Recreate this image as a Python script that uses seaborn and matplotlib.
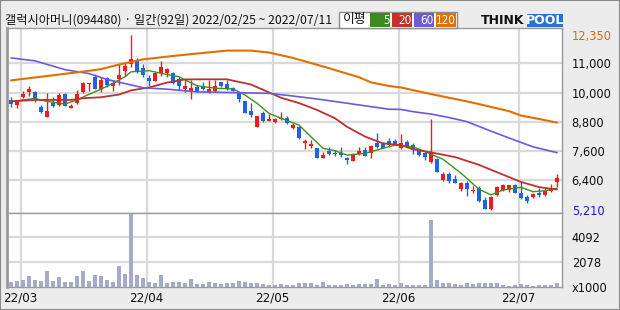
import numpy as np
import matplotlib
matplotlib.use("Agg")
import matplotlib.pyplot as plt
import seaborn as sns
from matplotlib.patches import Rectangle

# ---------------- data ----------------
title_text = "갤럭시아머니(094480) · 일간(92일) 2022/02/25 ~ 2022/07/11"

opens = [9710, 9500, 9830, 10020, 10030, 9410, 9010, 9560, 9490, 9940,
         9380, 9560, 10040, 10350, 10650, 10150, 10610, 10280, 10550, 10880,
         11170, 11290, 11000, 10610, 10490, 10790, 10790, 10790, 10550, 10140,
         10070, 10240, 10270, 10040, 10080, 10420, 10350, 10190, 10000, 9660,
         9260, 8600, 9150, 8850, 8810, 8910, 8950, 8540, 8580, 7950,
         7810, 7740, 7330, 7610, 7540, 7510, 7310, 7210, 7490, 7650,
         7510, 7950, 7910, 8020, 8020, 7720, 7980, 7850, 7650, 7510,
         7170, 7270, 6420, 6670, 6450, 6050, 6290, 5980, 6100, 5600,
         5220, 5810, 6020, 6000, 6220, 5870, 5740, 5740, 5900, 5810,
         5980, 6330]
highs = [9800, 9700, 10070, 10270, 10060, 9510, 10000, 9830, 9970, 9980,
         9520, 10110, 10450, 10410, 10760, 10650, 10650, 10520, 11170, 11200,
         12350, 11400, 11170, 10720, 10800, 11290, 11020, 10830, 10650, 10520,
         10520, 10310, 10450, 10520, 10520, 10450, 10520, 10230, 10040, 9660,
         9570, 9050, 9260, 9120, 8950, 9220, 9040, 8740, 8630, 8090,
         8060, 7750, 7580, 7760, 7650, 7760, 7370, 7540, 7760, 7760,
         7850, 8330, 7990, 8130, 8090, 8300, 8060, 7920, 7680, 7580,
         8910, 7310, 6760, 6760, 6620, 6350, 6380, 6170, 6170, 5710,
         5770, 6170, 6240, 6220, 6240, 6380, 5810, 5880, 6080, 6080,
         6270, 6650]
lows = [9410, 9360, 9770, 9860, 9630, 9180, 9000, 9420, 9460, 9450,
        9370, 9540, 9970, 10080, 10130, 10040, 10240, 10080, 10310, 10680,
        11040, 10790, 10650, 10270, 10480, 10690, 10630, 10350, 10110, 10040,
        9740, 10040, 10110, 9970, 10040, 10240, 10110, 10060, 9630, 9170,
        9010, 8590, 8810, 8840, 8740, 8880, 8710, 8520, 8100, 7680,
        7720, 7320, 7310, 7440, 7400, 7370, 7060, 7200, 7440, 7410,
        7310, 7750, 7720, 7780, 7890, 7680, 7780, 7490, 7400, 7240,
        7130, 6750, 6380, 6280, 6280, 5980, 5780, 5900, 5530, 5230,
        5210, 5780, 5980, 5940, 5870, 5660, 5490, 5700, 5740, 5770,
        5940, 6120]
closes = [9550, 9660, 9960, 10160, 9730, 9220, 9250, 9460, 9900, 9460,
          9460, 9940, 10380, 10380, 10150, 10520, 10310, 10410, 10730, 11100,
          11380, 10900, 10720, 10490, 10790, 11040, 10970, 10380, 10280, 10280,
          10200, 10080, 10140, 10160, 10270, 10270, 10160, 10080, 9730, 9180,
          9100, 9040, 8850, 8920, 8920, 8950, 8740, 8670, 8130, 8030,
          7900, 7330, 7440, 7490, 7490, 7430, 7240, 7490, 7610, 7420,
          7810, 7760, 7730, 7850, 7910, 7950, 7820, 7650, 7440, 7350,
          7580, 6760, 6670, 6390, 6310, 6290, 6040, 6010, 5570, 5250,
          5740, 6120, 6200, 6200, 5890, 5670, 5570, 5850, 5790, 5980,
          6080, 6500]
volumes_k = [459, 541, 623, 927, 599, 517, 1337, 517, 845, 459,
             459, 927, 1337, 541, 1009, 927, 599, 459, 1747, 1091,
             6011, 1009, 763, 459, 353, 1009, 377, 459, 459, 353,
             681, 271, 271, 459, 377, 295, 353, 353, 517, 459,
             377, 377, 271, 189, 189, 271, 189, 189, 353, 353,
             353, 189, 435, 189, 189, 189, 271, 189, 271, 271,
             271, 681, 189, 271, 189, 353, 189, 189, 189, 189,
             5519, 599, 353, 353, 271, 189, 353, 271, 353, 353,
             353, 353, 189, 107, 189, 271, 189, 107, 189, 189,
             189, 353]

# moving averages (candle index, price)
ma5_idx = [0, 2, 4, 6, 9, 11, 13, 15, 17, 19, 20, 23, 25, 28, 30, 31, 34, 37, 39, 41,
           43, 45, 48, 50, 52, 54, 56, 59, 62, 64, 67, 69, 72, 75, 78, 80, 82, 85, 87, 89, 91]
ma5_val = [9640, 9700, 9760, 9640, 9530, 9700, 9930, 10140, 10380, 10650, 10850, 10900,
           10790, 10650, 10400, 10280, 10180, 10150, 9900, 9560, 9150, 8950, 8670, 8190,
           7720, 7620, 7440, 7510, 7720, 7850, 7780, 7580, 7270, 6700, 6040, 5810, 6010,
           6120, 5940, 5980, 6080]
ma20_idx = [0, 4, 10, 12, 15, 18, 20, 23, 26, 29, 32, 36, 37, 40, 43, 45, 48, 51, 54,
            56, 59, 62, 65, 67, 70, 74, 78, 81, 85, 88, 91]
ma20_val = [9640, 9700, 9700, 9770, 9810, 9920, 10090, 10210, 10410, 10540, 10545, 10545,
            10490, 10330, 10010, 9790, 9570, 9290, 8950, 8600, 8200, 7920, 7850, 7680,
            7550, 7360, 7040, 6740, 6340, 6130, 6030]
ma60_idx = [0, 4, 9, 13, 16, 19, 22, 26, 31, 37, 43, 47, 51, 55, 59, 63, 65, 67, 70,
            73, 76, 80, 84, 87, 91]
ma60_val = [11420, 11300, 10940, 10780, 10540, 10370, 10200, 10140, 10030, 10000, 9970,
            9860, 9740, 9600, 9460, 9320, 9310, 9220, 9120, 8980, 8810, 8420, 8050, 7780, 7540]
ma120_idx = [0, 6, 11, 15, 18, 22, 27, 31, 36, 40, 43, 47, 50, 53, 55, 58, 60, 63, 65,
             70, 75, 78, 83, 85, 88, 91]
ma120_val = [10500, 10680, 10830, 10960, 11150, 11360, 11500, 11600, 11720, 11720, 11640,
             11420, 11210, 11000, 10850, 10630, 10420, 10270, 10210, 9940, 9690, 9530,
             9240, 9060, 8920, 8770]

month_labels = ["22/03", "22/04", "22/05", "22/06", "22/07"]
month_first_idx = [2, 23, 44, 65, 85]
price_grid = [11200, 10000, 8800, 7600, 6400]
price_grid_labels = ["11,000", "10,000", "8,800", "7,600", "6,400"]
price_max, price_min = 12350, 5210
vol_grid = [4092, 2078]
legend_periods = ["5", "20", "60", "120"]

# ---------------- style ----------------
RED, BLUE, VOL = "#f21a1a", "#1f62e2", "#a3acc4"
MA_COLORS = ["#3f8f1f", "#c03030", "#6a5ae0", "#e07000"]
LEG_COLORS = ["#3a8c1e", "#c8322a", "#6a5bd6", "#e0700a"]
GRID = "#d9d9d9"
SPINE = "#9a9a9a"

sns.set_theme(style="white")
plt.rcParams["font.family"] = ["Noto Sans CJK KR", "DejaVu Sans"]
NUM = dict(fontfamily="DejaVu Sans", fontstretch="condensed")

W, H = 620, 310
fig = plt.figure(figsize=(6.2, 3.1), dpi=100, facecolor="#ececec")


def fx(px):
    return px / W


def fy(py):
    return 1 - py / H


L, R, T, M, B = 7.3, 562, 28, 212.5, 287.3
ax_p = fig.add_axes([fx(L), fy(M), (R - L) / W, (M - T) / H])
ax_v = fig.add_axes([fx(L), fy(B), (R - L) / W, (B - M) / H])

n = len(opens)
idx = np.arange(n)
o = np.array(opens)
c = np.array(closes)
hi = np.array(highs)
lo = np.array(lows)
up = c >= o
cols = np.where(up, RED, BLUE)

ylo, yhi = 5089, 12646
xlo, xhi = -0.62, 91.83

for ax in (ax_p, ax_v):
    ax.set_facecolor("white")
    for g in month_first_idx:
        ax.axvline(g - 0.4, color=GRID, lw=1.6, zorder=0)
    for s in ax.spines.values():
        s.set_color(SPINE)
        s.set_linewidth(1.0)
    ax.spines["left"].set_linewidth(2.0)

for g in price_grid:
    ax_p.axhline(g, color=GRID, lw=1.6, zorder=0)
for g in vol_grid:
    ax_v.axhline(g, color=GRID, lw=1.6, zorder=0)

# candles
ax_p.vlines(idx, lo, hi, colors=cols, lw=1.0, zorder=3)
body_bottom = np.minimum(o, c)
body_h = np.maximum(np.abs(c - o), 45)
ax_p.bar(idx, body_h, bottom=body_bottom, width=0.74, color=cols, lw=0, zorder=4)

# moving averages
for (mi, mv), colr, lw in zip(
        [(ma5_idx, ma5_val), (ma20_idx, ma20_val), (ma60_idx, ma60_val), (ma120_idx, ma120_val)],
        MA_COLORS, [1.0, 1.3, 1.2, 1.5]):
    sns.lineplot(x=mi, y=mv, ax=ax_p, color=colr, lw=lw, zorder=5)

ax_p.set_xlim(xlo, xhi)
ax_p.set_ylim(ylo, yhi)
ax_p.set_xticks([])
ax_p.set_xlabel("")
ax_p.set_ylabel("")
ax_p.yaxis.tick_right()
pticks = [price_max] + price_grid + [price_min]
plabels = [f"{price_max:,}"] + price_grid_labels + [f"{price_min:,}"]
ax_p.set_yticks(pticks)
ax_p.set_yticklabels(plabels, fontsize=9.2, **NUM)
ax_p.tick_params(axis="y", length=0, pad=7)
tl = ax_p.get_yticklabels()
tl[0].set_color("#d2691e")
tl[-1].set_color("#1a1ad2")
for t in tl[1:-1]:
    t.set_color("#111111")

# volume
sns.barplot(x=idx, y=volumes_k, ax=ax_v, color=VOL, saturation=1, width=0.8,
            native_scale=True, errorbar=None, linewidth=0, zorder=3)
ax_v.set_xlim(xlo, xhi)
ax_v.set_ylim(0, 6134)
ax_v.set_xlabel("")
ax_v.set_ylabel("")
ax_v.yaxis.tick_right()
ax_v.set_yticks(vol_grid + [0])
ax_v.set_yticklabels([str(v) for v in vol_grid] + ["x1000"], fontsize=9.2,
                     color="#111111", **NUM)
ax_v.tick_params(axis="y", length=0, pad=7)
ax_v.set_xticks([g - 0.4 for g in month_first_idx])
ax_v.set_xticklabels(month_labels, fontsize=9.5, color="#111111", **NUM)
ax_v.tick_params(axis="x", length=0, pad=3)

# ---------------- header ----------------
fig.text(fx(5), fy(20), title_text, fontsize=8.8, color="#111111", va="center", ha="left")

# legend box
fig.patches.append(Rectangle((fx(339), fy(28)), (457 - 339) / W, 16 / H,
                             transform=fig.transFigure, facecolor="white",
                             edgecolor="#8c8c8c", lw=1.0))
fig.text(fx(343), fy(20), "이평", fontsize=9.2, color="#111111", va="center", ha="left")
box_x = [370, 392, 414, 436]
for bx, lab, colr in zip(box_x, legend_periods, LEG_COLORS):
    fig.patches.append(Rectangle((fx(bx), fy(26.5)), 20 / W, 13 / H,
                                 transform=fig.transFigure, facecolor=colr, lw=0))
    fig.text(fx(bx + 19.5), fy(20.3), lab, fontsize=8.4, color="white", va="center",
             ha="right", **NUM)

# logo
fig.text(fx(481), fy(20.5), "THINK", fontsize=9, fontweight="heavy", color="#111111",
         va="center", ha="left", fontfamily="DejaVu Sans")
fig.patches.append(Rectangle((fx(527), fy(27)), 36 / W, 13 / H,
                             transform=fig.transFigure, facecolor="#2b6fd8", lw=0))
fig.text(fx(545), fy(20.5), "POOL", fontsize=9, fontweight="heavy", color="white",
         va="center", ha="center", fontfamily="DejaVu Sans")

# outer frame
fig.patches.append(Rectangle((0, 0), 1, 1, transform=fig.transFigure, fill=False,
                             edgecolor="#8a8a8a", lw=1.5))

fig.savefig("out.png", dpi=100, facecolor=fig.get_facecolor())
